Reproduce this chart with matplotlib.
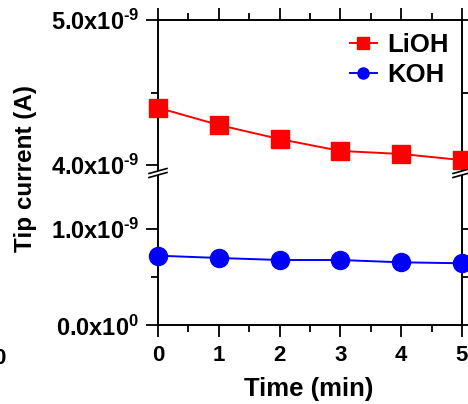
import matplotlib
matplotlib.use("Agg")
import matplotlib.pyplot as plt
from matplotlib.lines import Line2D
from matplotlib.patches import Polygon
from matplotlib.ticker import MultipleLocator, FixedLocator

# Tip current vs. time for two electrolytes
time_min = [0, 1, 2, 3, 4, 5]
lioh_current = [4.395e-9, 4.276e-9, 4.179e-9, 4.097e-9, 4.076e-9, 4.034e-9]
koh_current = [0.723e-9, 0.699e-9, 0.678e-9, 0.678e-9, 0.654e-9, 0.644e-9]

upper_ticks = [4.0e-9, 5.0e-9]
upper_labels = [r"4.0x10$^{\text{-9}}$", r"5.0x10$^{\text{-9}}$"]
lower_ticks = [0.0, 1.0e-9]
lower_labels = [r"0.0x10$^{\text{0}}$", r"1.0x10$^{\text{-9}}$"]
x_ticks = [0, 1, 2, 3, 4, 5]

plt.rcParams["font.family"] = ["Liberation Sans", "DejaVu Sans"]
plt.rcParams["font.weight"] = "bold"
plt.rcParams["mathtext.fontset"] = "custom"
plt.rcParams["mathtext.rm"] = "Liberation Sans:bold"
plt.rcParams["mathtext.bf"] = "Liberation Sans:bold"
plt.rcParams["mathtext.default"] = "bf"

W, H = 468, 404
fig = plt.figure(figsize=(W / 100, H / 100), dpi=100)
fig.patch.set_facecolor("white")


def fx(px):
    return px / W


def fy(py):
    return (H - py) / H


left, right = 158, 462
top, y_break_up, y_break_lo, bottom = 20, 172, 173, 325.3

ax1 = fig.add_axes([fx(left), fy(y_break_up), fx(right) - fx(left), fy(top) - fy(y_break_up)])
ax2 = fig.add_axes([fx(left), fy(bottom), fx(right) - fx(left), fy(y_break_lo) - fy(bottom)])

# upper panel: 5.0e-9 at y=20 px, 4.0e-9 at y=165 px
up_scale = 145.0  # px per 1e-9
ax1.set_ylim(4.0e-9 - (y_break_up - 165) / up_scale * 1e-9, 5.0e-9)
# lower panel: 0 at y=325.3 px, 1.0e-9 at y=229 px
lo_scale = 96.3
ax2.set_ylim(0.0, (bottom - y_break_lo) / lo_scale * 1e-9)

for ax in (ax1, ax2):
    ax.set_xlim(0, 5)
    for s in ax.spines.values():
        s.set_linewidth(1.4)
    ax.tick_params(which="major", direction="out", length=8.5, width=1.3, pad=5)
    ax.tick_params(which="minor", direction="out", length=5, width=1.3)
    ax.tick_params(axis="y", labelsize=17)
    ax.tick_params(axis="x", labelsize=16)
    ax.xaxis.set_major_locator(FixedLocator(x_ticks))
    ax.xaxis.set_minor_locator(MultipleLocator(0.5))

ax1.spines["bottom"].set_visible(False)
ax2.spines["top"].set_visible(False)

ax1.tick_params(axis="x", which="both", bottom=False, top=True, labelbottom=False)
ax1.tick_params(axis="y", which="both", left=True, right=True)
ax1.yaxis.set_major_locator(FixedLocator(upper_ticks))
ax1.yaxis.set_minor_locator(FixedLocator([4.5e-9]))
ax1.set_yticklabels(upper_labels)

ax2.tick_params(axis="x", which="both", bottom=True, top=False)
ax2.tick_params(axis="x", which="major", pad=6)
ax2.tick_params(axis="y", which="both", left=True, right=True)
ax2.yaxis.set_major_locator(FixedLocator(lower_ticks))
ax2.yaxis.set_minor_locator(FixedLocator([0.5e-9]))
ax2.set_yticklabels(lower_labels)
ax2.set_xticklabels([str(t) for t in x_ticks])

ax1.plot(time_min, lioh_current, color="#ff0000", lw=1.4, marker="s", ms=13,
         mec="#ff0000", mfc="#ff0000", clip_on=False, zorder=5)
ax2.plot(time_min, koh_current, color="#0000ff", lw=1.4, marker="o", ms=13,
         mec="#0000ff", mfc="#0000ff", clip_on=False, zorder=5)

handles = [
    Line2D([], [], color="#ff0000", lw=1.4, marker="s", ms=8, mfc="#ff0000", mec="#ff0000"),
    Line2D([], [], color="#0000ff", lw=1.4, marker="o", ms=8, mfc="#0000ff", mec="#0000ff"),
]
fig.legend(handles, ["LiOH", "KOH"], loc="upper left",
           bbox_to_anchor=(fx(350), fy(33)), frameon=False, fontsize=18.5,
           handlelength=1.05, handletextpad=0.4, labelspacing=0.22,
           borderpad=0, borderaxespad=0)

# axis break marks on both vertical spines
for xc in (left, right):
    gap = Polygon([[fx(xc - 9), fy(173.5)], [fx(xc + 9), fy(168.5)],
                   [fx(xc + 9), fy(172.5)], [fx(xc - 9), fy(177.5)]],
                  closed=True, transform=fig.transFigure, facecolor="white",
                  edgecolor="none", zorder=10)
    fig.patches.append(gap)
    for dy in (0, 4):
        fig.lines.append(Line2D([fx(xc - 9), fx(xc + 9)],
                                [fy(173.5 + dy), fy(168.5 + dy)],
                                transform=fig.transFigure, color="black",
                                lw=1.2, zorder=11))

fig.text(fx(26), fy(168), "Tip current (A)", rotation=90, ha="center",
         va="center", fontsize=17.5, fontweight="bold")
fig.text(fx(309), fy(389), "Time (min)", ha="center", va="center",
         fontsize=18.5, fontweight="bold")
# trailing digit of the neighbouring panel's axis
fig.text(fx(6), fy(359), "0", ha="right", va="center", fontsize=16,
         fontweight="bold")

fig.savefig("out.png", dpi=100)
